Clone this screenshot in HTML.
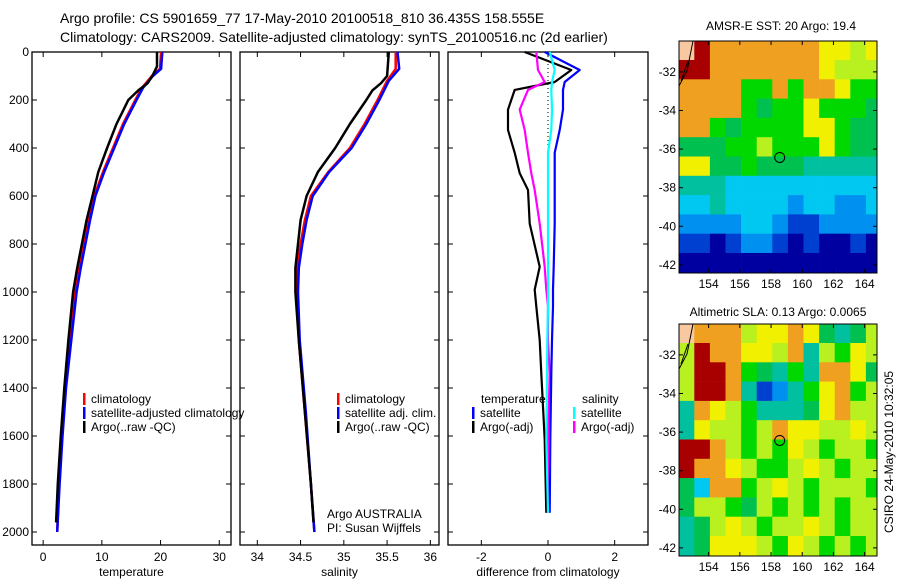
<!DOCTYPE html>
<html><head><meta charset="utf-8"><style>
body{margin:0;background:#fff;}
svg{display:block;font-family:"Liberation Sans",sans-serif;}
</style></head><body>
<svg id="fig" width="900" height="580" xmlns="http://www.w3.org/2000/svg">
<text x="60" y="23" font-size="14">Argo profile: CS 5901659_77 17-May-2010 20100518_810 36.435S 158.555E</text>
<text x="60" y="42" font-size="14">Climatology: CARS2009. Satellite-adjusted climatology: synTS_20100516.nc (2d earlier)</text>
<text x="781" y="30" font-size="12" text-anchor="middle">AMSR-E SST: 20 Argo: 19.4</text>
<text x="778" y="316" font-size="12" text-anchor="middle">Altimetric SLA: 0.13 Argo: 0.0065</text>
<text transform="translate(893,452) rotate(-90)" font-size="12" text-anchor="middle">CSIRO 24-May-2010 10:32:05</text>
<g id="p1"></g><g id="p2"></g><g id="p3"></g><g id="m1"></g><g id="m2"></g>
</svg>
<script>
// ---- data ----
const depthTicks=[0,200,400,600,800,1000,1200,1400,1600,1800,2000];
const tempTicks=[0,10,20,30];
const salTicks=[34,34.5,35,35.5,36];
const diffTicks=[-2,0,2];
const tClimDepth=[0,70,100,150,200,300,400,500,600,700,800,900,1000,1200,1400,1600,1800,2000];
const tClim=[20.1,19.9,18.5,16.8,15.7,13.6,11.9,10.2,8.7,7.8,7.0,6.2,5.5,4.6,3.8,3.2,2.7,2.4];
const tSat=[20.3,20.1,18.7,17.0,15.9,13.8,12.1,10.4,8.9,8.0,7.2,6.4,5.7,4.8,3.9,3.3,2.8,2.4];
const tArgoDepth=[0,60,100,130,160,200,300,400,500,600,700,800,900,1000,1200,1400,1600,1800,1960];
const tArgo=[19.4,19.4,18.6,17.8,16.2,14.5,12.5,10.9,9.4,8.4,7.4,6.6,5.8,5.1,4.3,3.6,3.0,2.5,2.2];
const sClimDepth=[0,70,120,200,300,400,500,600,700,800,900,1000,1200,1500,1800,2000];
const sClim=[35.6,35.6,35.5,35.39,35.24,35.07,34.82,34.62,34.55,34.5,34.46,34.46,34.48,34.55,34.62,34.66];
const sSat=[35.62,35.64,35.52,35.41,35.26,35.09,34.83,34.64,34.57,34.52,34.48,34.47,34.49,34.56,34.62,34.66];
const sArgoDepth=[0,100,130,160,200,300,400,500,600,700,800,900,1000,1200,1500,1800,1960];
const sArgo=[35.52,35.5,35.43,35.33,35.26,35.07,34.9,34.7,34.57,34.5,34.47,34.44,34.44,34.48,34.55,34.62,34.65];
const dDepth=[0,75,125,158,240,325,420,505,575,715,895,990,1060,1200,1340,1615,1920];
const dTempArgo=[-0.7,0.7,0.2,-1.0,-1.2,-1.2,-1.0,-0.85,-0.6,-0.55,-0.25,-0.4,-0.35,-0.25,-0.2,-0.1,-0.05];
const dTempSat=[-0.1,0.95,0.5,0.45,0.45,0.35,0.2,0.2,0.2,0.2,0.17,0.15,0.15,0.12,0.1,0.07,0.05];
const dSalArgo=[-0.35,-0.3,-0.1,-0.6,-0.85,-0.7,-0.6,-0.5,-0.4,-0.25,-0.1,-0.05,0,0,0.05,0,0];
const dSalSat=[0.05,0.2,0.12,0.1,0.12,0.1,0.0,0.0,0.0,0.0,0.0,0.0,0.0,-0.02,-0.03,-0.05,0];
const latTicks=[-32,-34,-36,-38,-40,-42];
const lonTicks=[154,156,158,160,162,164];
const sstGrid=["LDOOOOOOOYYyY","DDOOOOOOOYyyy","OOOOGGOGOOYGG","OOOOGgGGYGGGg","OOGgGGGGYYGgg","gggGGyGGGYGgg","YYggGgggTTTTT","TTTCCCCCCCCCC","CCTCCCCBCCBBC","BBBBCCBbbBBBB","bbNbBBbNbNNbN","NNNNNNNNNNNNN"];
const slaGrid=["LOOOyYYOYgTgy","yDOOYYyOTyGYy","yDDOGgTGTOOYg","yDDOTbBTGYOGy","TOYyGTTTgYOyy","TYyyGyOYYyyYy","DDOyGyGYyGyyG","DOOYyGGyYyGyy","gCOOGyYyGyyyG","gyyGgyGyGyGyy","TgyYyGyyYyGyy","TgYYYyGYyGyGy"];
const floatLon=158.555, floatLat=-36.435;
// ---- helpers ----
const NS="http://www.w3.org/2000/svg";
function mk(p,tag,attrs){const e=document.createElementNS(NS,tag);for(const k in attrs)e.setAttribute(k,attrs[k]);p.appendChild(e);return e;}
const Y0=52,YS=0.24;
const yD=d=>Y0+d*YS;
function panel(g,x0,x1,xmin,xmax,xt,xlabel,yLabels,name){
  const xf=v=>x0+(v-xmin)/(xmax-xmin)*(x1-x0);
  const fr=mk(g,'rect',{x:x0,y:52,width:x1-x0,height:493,fill:'none',stroke:'#000','stroke-width':1.3});
  
  
  depthTicks.forEach(d=>{
    mk(g,'line',{x1:x0,x2:x0+5,y1:yD(d),y2:yD(d),stroke:'#000'});
    mk(g,'line',{x1:x1,x2:x1-5,y1:yD(d),y2:yD(d),stroke:'#000'});
    if(yLabels){const t=mk(g,'text',{x:x0-3,y:yD(d)+4,'font-size':12,'text-anchor':'end'});t.textContent=d;
      
      }
  });
  xt.forEach(v=>{
    mk(g,'line',{x1:xf(v),x2:xf(v),y1:545,y2:540,stroke:'#000'});
    mk(g,'line',{x1:xf(v),x2:xf(v),y1:52,y2:57,stroke:'#000'});
    const t=mk(g,'text',{x:xf(v),y:561,'font-size':12,'text-anchor':'middle'});t.textContent=v;
    
    
  });
  const l=mk(g,'text',{x:(x0+x1)/2,y:576,'font-size':12,'text-anchor':'middle'});l.textContent=xlabel;
  
  
  return xf;
}
function line(g,xf,vals,depths,color,w,name){
  const pts=vals.map((v,i)=>xf(v).toFixed(1)+','+yD(depths[i]).toFixed(1)).join(' ');
  const e=mk(g,'polyline',{points:pts,fill:'none',stroke:color,'stroke-width':w,'stroke-linejoin':'round'});
  
  
}
function legend(g,x,y,items,name){
  items.forEach((it,i)=>{
    mk(g,'rect',{x:x,y:y+i*14-10,width:2.5,height:12,fill:it[1]});
    const t=mk(g,'text',{x:x+8,y:y+i*14,'font-size':12});t.textContent=it[0];
    
    
  });
}
// panel 1
const g1=document.getElementById('p1');
const xT=panel(g1,32,231,-1.9,32,tempTicks,'temperature',true,'temperature-panel');
line(g1,xT,tClim,tClimDepth,'#f00',2.5,'temp-climatology-line');
line(g1,xT,tSat,tClimDepth,'#00f',2.5,'temp-satellite-line');
line(g1,xT,tArgo,tArgoDepth,'#000',2.5,'temp-argo-line');
legend(g1,83,403,[['climatology','#f00'],['satellite-adjusted climatology','#00f'],['Argo(..raw -QC)','#000']],'temp-legend');
// panel 2
const g2=document.getElementById('p2');
const xS=panel(g2,240,439,33.8,36.1,salTicks,'salinity',false,'salinity-panel');
line(g2,xS,sClim,sClimDepth,'#f00',2.5,'sal-climatology-line');
line(g2,xS,sSat,sClimDepth,'#00f',2.5,'sal-satellite-line');
line(g2,xS,sArgo,sArgoDepth,'#000',2.5,'sal-argo-line');
legend(g2,337,403,[['climatology','#f00'],['satellite adj. clim.','#00f'],['Argo(..raw -QC)','#000']],'sal-legend');
let t=mk(g2,'text',{x:327,y:518,'font-size':12});t.textContent='Argo AUSTRALIA';
t=mk(g2,'text',{x:327,y:532,'font-size':12});t.textContent='PI: Susan Wijffels';
// panel 3
const g3=document.getElementById('p3');
const xDf=panel(g3,448,648,-3,3,diffTicks,'difference from climatology',false,'difference-panel');
mk(g3,'line',{x1:xDf(0),x2:xDf(0),y1:52,y2:150,stroke:'#000','stroke-dasharray':'1,3'});
line(g3,xDf,dTempArgo,dDepth,'#000',2.2,'temp-argo-diff-line');
line(g3,xDf,dSalArgo,dDepth,'#f0f',2.2,'sal-argo-diff-line');
line(g3,xDf,dTempSat,dDepth,'#00f',2.2,'temp-satellite-diff-line');
line(g3,xDf,dSalSat,dDepth,'#0ff',2.2,'sal-satellite-diff-line');
t=mk(g3,'text',{x:481,y:403,'font-size':12});t.textContent='temperature';
t=mk(g3,'text',{x:582,y:403,'font-size':12});t.textContent='salinity';
legend(g3,472,417,[['satellite','#00f'],['Argo(-adj)','#000']],'diff-temp-legend');
legend(g3,573,417,[['satellite','#0ff'],['Argo(-adj)','#f0f']],'diff-sal-legend');
// maps
const pal={L:'#f8c8a0',D:'#a80000',O:'#f0a020',Y:'#f0f000',y:'#b8f020',G:'#00d800',g:'#00c050',T:'#00c0a0',C:'#00c8f0',B:'#0090f0',b:'#0040d0',N:'#0000a0'};
function map(g,top,grid,name){
  const x0=679,x1=877,bot=top+232,lon0=152.1,lat0=-30.4;
  const xl=v=>x0+(v-lon0)*15.6, yl=v=>top+(lat0-v)*19.3;
  const cg=mk(g,'g',{});
  cg.setAttribute('clip-path','url(#clip-'+name+')');
  const cp=mk(mk(g,'defs',{}),'clipPath',{id:'clip-'+name});mk(cp,'rect',{x:x0,y:top,width:x1-x0,height:bot-top});
  grid.forEach((row,r)=>{[...row].forEach((c,k)=>{
    mk(cg,'rect',{x:xl(lon0+k)-0.3,y:yl(lat0-r)-0.3,width:15.9,height:19.6,fill:pal[c]});
  });});
  mk(cg,'polyline',{points:`${x0},${top+45} ${x0+8},${top+30} ${x0+14},${top}`,fill:'none',stroke:'#000'});
  mk(cg,'polyline',{points:`${x0+2},${top+40} ${x0+9},${top+20}`,fill:'none',stroke:'#000'});
  const c=mk(g,'circle',{cx:xl(floatLon),cy:yl(floatLat),r:5,fill:'none',stroke:'#000'});
  
  
  const f=mk(g,'rect',{x:x0,y:top,width:x1-x0,height:bot-top,fill:'none',stroke:'#000'});
  
  
  latTicks.forEach(v=>{
    mk(g,'line',{x1:x0,x2:x0+4,y1:yl(v),y2:yl(v),stroke:'#000'});
    mk(g,'line',{x1:x1,x2:x1-4,y1:yl(v),y2:yl(v),stroke:'#000'});
    const t=mk(g,'text',{x:x0-3,y:yl(v)+4,'font-size':12,'text-anchor':'end'});t.textContent=v;
    
    
  });
  lonTicks.forEach(v=>{
    mk(g,'line',{x1:xl(v),x2:xl(v),y1:bot,y2:bot-4,stroke:'#000'});
    mk(g,'line',{x1:xl(v),x2:xl(v),y1:top,y2:top+4,stroke:'#000'});
    const t=mk(g,'text',{x:xl(v),y:bot+15,'font-size':12,'text-anchor':'middle'});t.textContent=v;
    
    
  });
}
map(document.getElementById('m1'),41,sstGrid,'sst-map');
map(document.getElementById('m2'),324,slaGrid,'sla-map');
</script>
</body></html>
